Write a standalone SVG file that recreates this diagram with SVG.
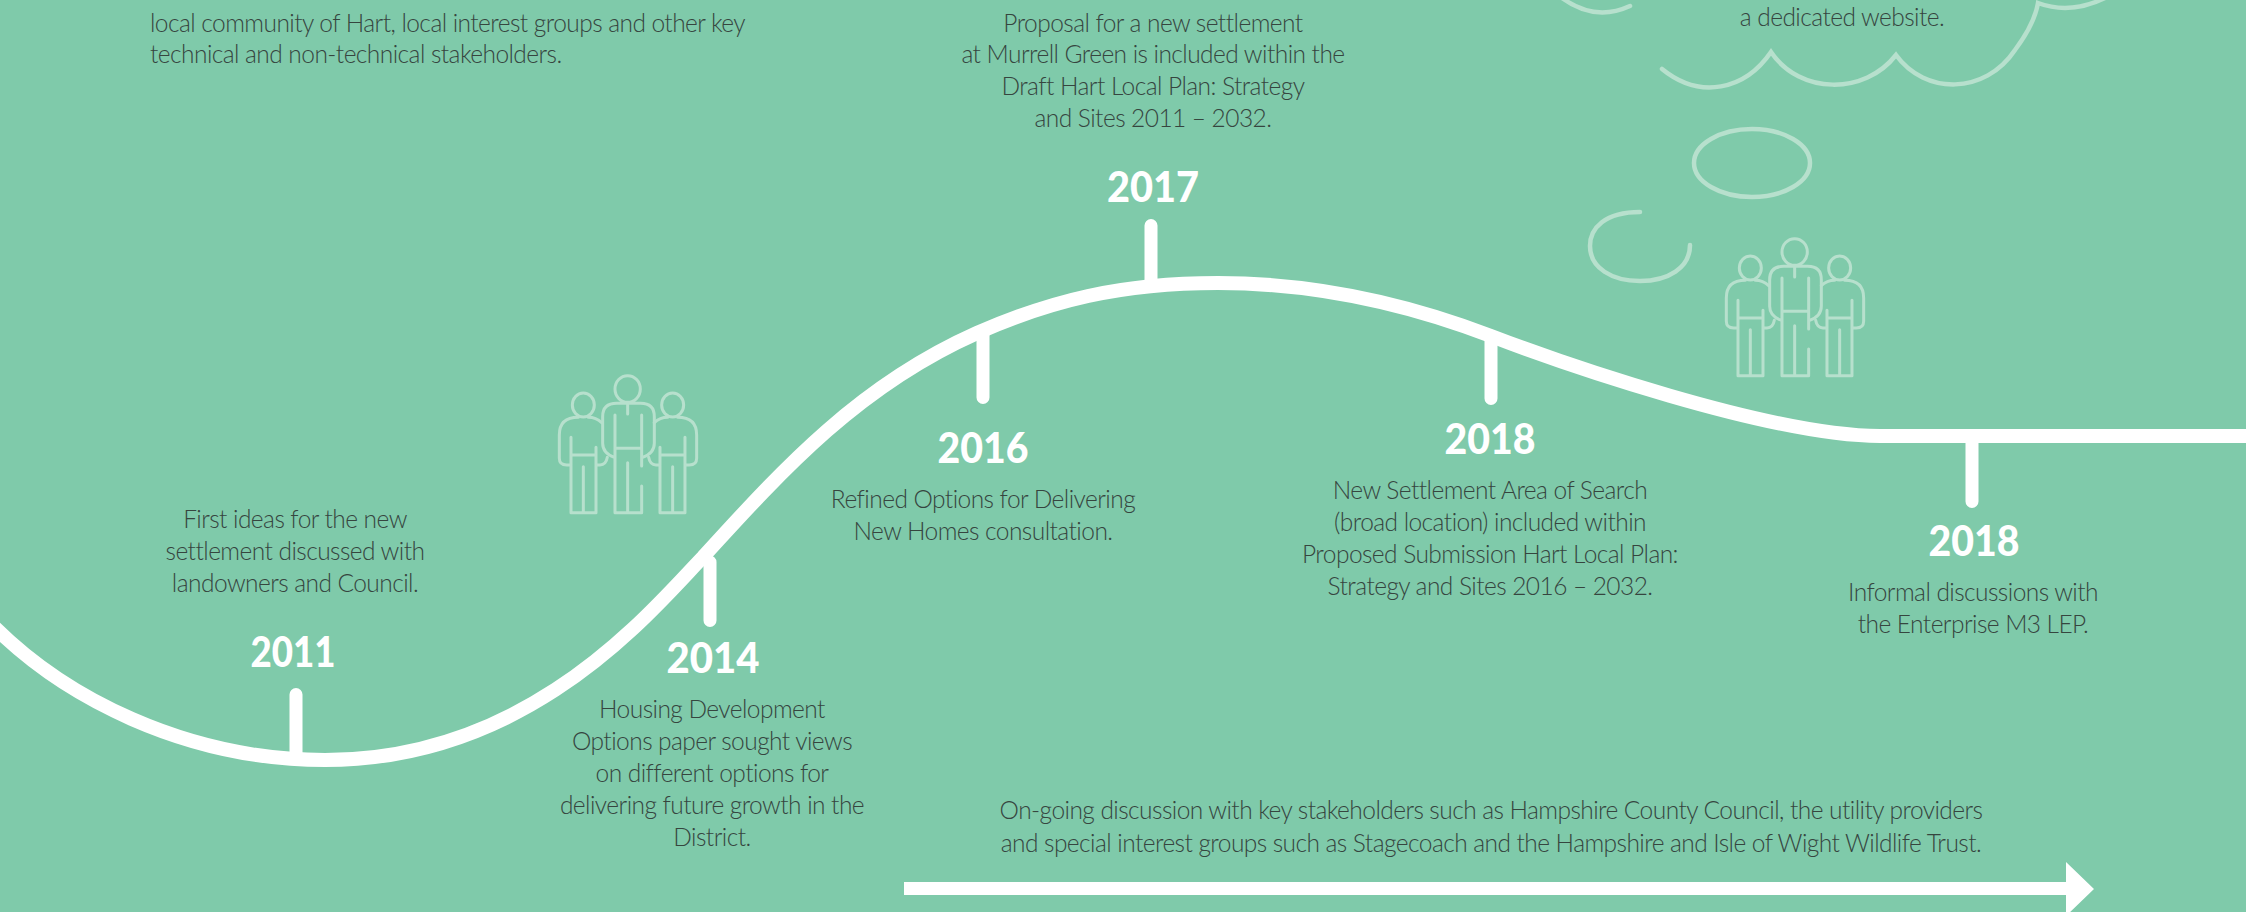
<svg xmlns="http://www.w3.org/2000/svg" xmlns:xlink="http://www.w3.org/1999/xlink" width="2246" height="912" viewBox="0 0 2246 912">
<style>
.t{font-family:"Lato","Liberation Sans",sans-serif;font-weight:300;font-size:24.5px;letter-spacing:-.55px;fill:#36453f;text-anchor:middle}
.l{text-anchor:start}
.y{font-family:"Lato","Liberation Sans",sans-serif;font-weight:900;font-size:42px;fill:#fff;text-anchor:middle}
.w{fill:none;stroke:#fff;stroke-width:13;stroke-linecap:round}
.c{fill:none;stroke:#b7e0cd;stroke-width:4.5;stroke-linecap:round;stroke-linejoin:miter}
.p{fill:none;stroke:#b7e0cd;stroke-width:9;stroke-linecap:round;stroke-linejoin:round}
</style>
<defs>
<g id="person">
<ellipse cx="190" cy="135" rx="33" ry="36"/>
<path d="M175 172Q118 172 118 225V295Q118 315 140 315H153M205 172Q228 172 245 188M153 232V458H228V262M153 285H228M190 320V458M228 315H240Q258 315 262 292"/>
</g>
<g id="people">
<use xlink:href="#person" href="#person"/>
<use xlink:href="#person" href="#person" transform="matrix(-1 0 0 1 648 0)"/>
<ellipse cx="323" cy="87" rx="38" ry="40"/>
<path d="M283 292Q248 280 248 250V170Q248 130 290 130H362Q403 130 403 170V250Q403 280 368 292M285 165V458H365V378M365 165V318M285 265H365M323 308V458M323 130V162"/>
</g>
</defs>
<rect width="2246" height="912" fill="#7fcaaa"/>
<g id="decor">
<g class="c">
<path d="M1562 -2Q1595 22 1630 6"/>
<path d="M1662 69C1700 100 1745 90 1771 52C1800 95 1865 95 1896 55C1925 95 1985 95 2015 50C2030 30 2036 15 2038 3Q2070 15 2105 -2"/>
<ellipse cx="1752" cy="163" rx="58" ry="34"/>
<path d="M1640 212C1605 212 1590 228 1590 246C1590 268 1612 281 1640 281C1668 281 1690 268 1690 245"/>
</g>
<use xlink:href="#people" href="#people" class="p" transform="translate(520 360) scale(.3333)"/>
<use xlink:href="#people" href="#people" class="p" transform="translate(1687 223) scale(.3333)"/>
</g>
<g id="connectors">
<path d="M-20 612C60 700 190 760 325 760C530 760 650 612 703 557C785 467 860 385 977 333C1050 301 1120 283 1218 283C1320 283 1410 305 1491 336C1559 362 1770 436 1880 436H2260" fill="none" stroke="#fff" stroke-width="14"/>
<path class="w" d="M296 694.5V755M710 562V620.5M983 335V397.5M1151 225.5V285M1491 340V398.5M1972 442V501.5"/>
<path d="M904 882H2066V862L2094 889L2066 916V895H904Z" fill="#fff"/>
</g>
<g id="intro"><text class="t l" x="150" y="32">local community of Hart, local interest groups and other key</text><text class="t l" x="150" y="63">technical and non-technical stakeholders.</text></g>
<g id="website"><text class="t" x="1842" y="26">a dedicated website.</text></g>
<g id="n2017"><text class="t" x="1153" y="32">Proposal for a new settlement</text><text class="t" x="1153" y="63">at Murrell Green is included within the</text><text class="t" x="1153" y="95">Draft Hart Local Plan: Strategy</text><text class="t" x="1153" y="127">and Sites 2011 – 2032.</text><text class="y" x="1153" y="202" textLength="92" lengthAdjust="spacingAndGlyphs">2017</text></g>
<g id="n2011"><text class="t" x="295" y="528">First ideas for the new</text><text class="t" x="295" y="560">settlement discussed with</text><text class="t" x="295" y="592">landowners and Council.</text><text class="y" x="293" y="667" textLength="85" lengthAdjust="spacingAndGlyphs">2011</text></g>
<g id="n2014"><text class="y" x="713" y="673" textLength="93" lengthAdjust="spacingAndGlyphs">2014</text><text class="t" x="712" y="718">Housing Development</text><text class="t" x="712" y="750">Options paper sought views</text><text class="t" x="712" y="782">on different options for</text><text class="t" x="712" y="814">delivering future growth in the</text><text class="t" x="712" y="846">District.</text></g>
<g id="n2016"><text class="y" x="983" y="463" textLength="91" lengthAdjust="spacingAndGlyphs">2016</text><text class="t" x="983" y="508">Refined Options for Delivering</text><text class="t" x="983" y="540">New Homes consultation.</text></g>
<g id="n2018a"><text class="y" x="1490" y="454" textLength="91" lengthAdjust="spacingAndGlyphs">2018</text><text class="t" x="1490" y="499">New Settlement Area of Search</text><text class="t" x="1490" y="531">(broad location) included within</text><text class="t" x="1490" y="563">Proposed Submission Hart Local Plan:</text><text class="t" x="1490" y="595">Strategy and Sites 2016 – 2032.</text></g>
<g id="n2018b"><text class="y" x="1974" y="556" textLength="91" lengthAdjust="spacingAndGlyphs">2018</text><text class="t" x="1973" y="601">Informal discussions with</text><text class="t" x="1973" y="633">the Enterprise M3 LEP.</text></g>
<g id="ongoing"><text class="t" x="1491" y="819">On-going discussion with key stakeholders such as Hampshire County Council, the utility providers</text><text class="t" x="1491" y="852">and special interest groups such as Stagecoach and the Hampshire and Isle of Wight Wildlife Trust.</text></g>
</svg>
